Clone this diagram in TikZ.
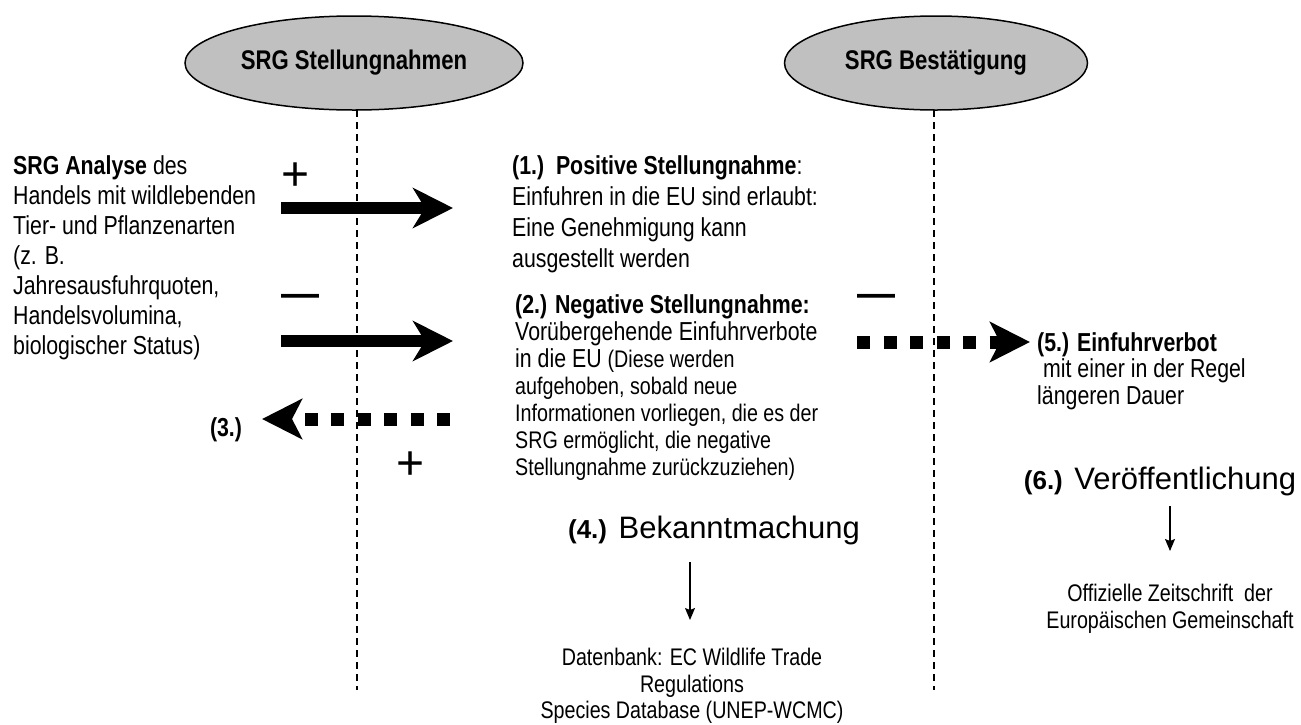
\documentclass[tikz,border=0pt]{standalone}
\usepackage{fontspec}
\setmainfont{Liberation Sans}[FakeStretch=0.82]
\newfontfamily\widefont{Liberation Sans}
\usetikzlibrary{arrows.meta,shapes.geometric}
\definecolor{ellgray}{HTML}{C0C0C0}
\newcommand{\smtxt}{\fontsize{24}{27}\selectfont}
\begin{document}
\begin{tikzpicture}[x=1pt,y=-1pt,
  ell/.style={ellipse, draw=black, line width=1.5pt, fill=ellgray, minimum height=94pt, inner sep=0pt, font=\fontsize{27}{30}\selectfont\bfseries},
  vline/.style={line width=1.3pt, dash pattern=on 7pt off 5pt},
  txt/.style={inner sep=0pt, align=left, font=\fontsize{26}{30}\selectfont},
  ctxt/.style={inner sep=0pt, align=center, font=\fontsize{24}{26.5}\selectfont},
  big/.style={inner sep=0pt, font=\widefont\fontsize{31}{34}\selectfont},
  signtxt/.style={inner sep=0pt, font=\widefont\fontsize{48}{48}\selectfont},
  dashsign/.style={inner sep=0pt, font=\widefont\bfseries\fontsize{38}{38}\selectfont},
  bigarrow/.style={line width=12pt, -{Stealth[length=40pt, width=40pt, inset=12pt]}},
  dotarrow/.style={line width=13pt, dash pattern=on 13pt off 13.5pt, -{Stealth[length=40pt, width=40pt, inset=10pt]}},
  thinarrow/.style={line width=1.2pt, -{Stealth[length=12pt, width=10pt, inset=2pt]}}
]
\useasboundingbox (0,0) rectangle (1301,724);

% ellipses
\node[ell, minimum width=338pt] (e1) at (354,63) {SRG Stellungnahmen};
\node[ell, minimum width=303pt] (e2) at (936,63) {SRG Bestätigung};

% dashed vertical lines
\coordinate (d1t) at (357,110);
\coordinate (d1b) at (357,690);
\coordinate (d2t) at (934,110);
\coordinate (d2b) at (934,690);
\draw[vline] (d1t) -- (d1b);
\draw[vline] (d2t) -- (d2b);

% left text
\node[txt, anchor=north west] (ana) at (13,155) {\textbf{SRG Analyse} des\\Handels mit wildlebenden\\Tier- und Pflanzenarten\\(z. B.\\Jahresausfuhrquoten,\\Handelsvolumina,\\biologischer Status)};

% positive / negative arrows
\coordinate (a1s) at (281,208);
\coordinate (a1e) at (453,208);
\coordinate (a2s) at (281,341);
\coordinate (a2e) at (453,341);
\draw[bigarrow] (a1s) -- (a1e);
\draw[bigarrow] (a2s) -- (a2e);
\node[signtxt] (plus1) at (296,177) {+};
\node[dashsign] (minus1) at (300,300) {—};

% (1.) text
\node[txt, anchor=north west, font=\fontsize{26}{31}\selectfont] (pos) at (512,155) {\textbf{(1.)\ \ Positive Stellungnahme}:\\Einfuhren in die EU sind erlaubt:\\Eine Genehmigung kann\\ausgestellt werden};

% (2.) text
\node[txt, anchor=north west, font=\fontsize{26}{27}\selectfont] (neg) at (515,294) {\textbf{(2.) Negative Stellungnahme:}\\Vorübergehende Einfuhrverbote\\in die EU {\smtxt(Diese werden}\\{\smtxt aufgehoben, sobald neue}\\{\smtxt Informationen vorliegen, die es der}\\{\smtxt SRG ermöglicht, die negative}\\{\smtxt Stellungnahme zurückzuziehen)}};

% (5.) arrow
\coordinate (a5s) at (857,342);
\coordinate (a5e) at (1030,342);
\draw[dotarrow] (a5s) -- (a5e);
\node[dashsign] (minus2) at (876,300) {—};
\node[txt, anchor=north west, font=\fontsize{26}{26.5}\selectfont] (ban) at (1037,332) {\textbf{(5.) Einfuhrverbot}\\\ mit einer in der Regel\\längeren Dauer};

% (3.) arrow
\coordinate (a3s) at (450,419);
\coordinate (a3e) at (262,419);
\draw[dotarrow] (a3s) -- (a3e);
\node[signtxt] (plus2) at (411,466) {+};
\node[inner sep=0pt, font=\fontsize{26}{30}\selectfont\bfseries] (l3) at (226,430) {(3.)};

% (4.)
\node[big] (bek) at (714,530) {\textbf{\fontsize{26}{30}\selectfont(4.)} Bekanntmachung};
\coordinate (a4s) at (690,562);
\coordinate (a4e) at (690,620);
\draw[thinarrow] (a4s) -- (a4e);
\node[ctxt] (db) at (692,686) {Datenbank: EC Wildlife Trade\\Regulations\\Species Database (UNEP-WCMC)};

% (6.)
\node[big] (ver) at (1160,481) {\textbf{\fontsize{26}{30}\selectfont(6.)} Veröffentlichung};
\coordinate (a6s) at (1170,506);
\coordinate (a6e) at (1170,551);
\draw[thinarrow] (a6s) -- (a6e);
\node[ctxt] (oz) at (1170,609) {Offizielle Zeitschrift\ \ der\\Europäischen Gemeinschaft};
\end{tikzpicture}
\end{document}
